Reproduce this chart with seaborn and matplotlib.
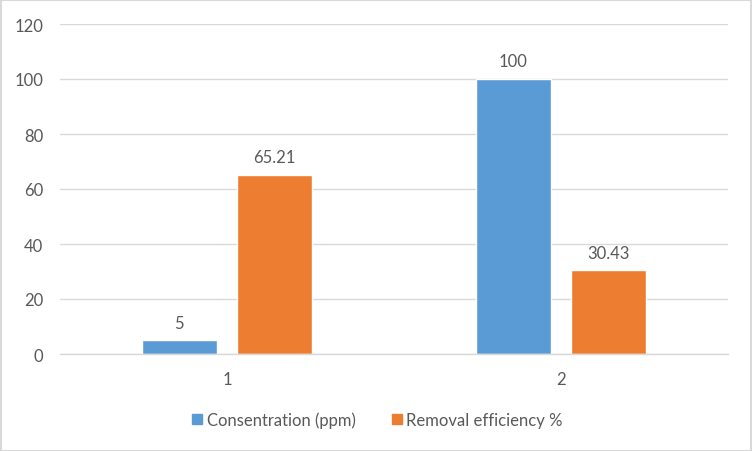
import matplotlib
matplotlib.use("Agg")
import matplotlib.pyplot as plt
from matplotlib.lines import Line2D
from matplotlib.patches import Rectangle
import seaborn as sns
import pandas as pd

categories = ["1", "2"]
series_names = ["Consentration (ppm)", "Removal efficiency %"]
concentration = [5, 100]
removal_efficiency = [65.21, 30.43]
label_text = {"Consentration (ppm)": ["5", "100"], "Removal efficiency %": ["65.21", "30.43"]}
yticks = [0, 20, 40, 60, 80, 100, 120]

colors = ["#5B9BD5", "#ED7D31"]
text_color = "#595959"
grid_color = "#D9D9D9"

df = pd.DataFrame({
    "cat": categories * 2,
    "series": [series_names[0]] * 2 + [series_names[1]] * 2,
    "value": concentration + removal_efficiency,
})

sns.set_theme(style="white")
plt.rcParams["font.family"] = ["Lato", "DejaVu Sans"]
fs = 12

fig = plt.figure(figsize=(7.52, 4.52), dpi=100)
ax = fig.add_axes([60 / 752, 1 - 355 / 452, 668 / 752, 330 / 452])

sns.barplot(data=df, x="cat", y="value", hue="series", hue_order=series_names,
            order=categories, palette=colors, width=0.57, gap=0.21,
            saturation=1, legend=False, ax=ax, errorbar=None)

for cont, name in zip(ax.containers, series_names):
    ax.bar_label(cont, labels=label_text[name], padding=7, fontsize=fs, color=text_color)

ax.set_xlim(-0.5, 1.5)
ax.set_ylim(0, 120)
ax.set_yticks(yticks)
ax.set_yticklabels([str(t) for t in yticks])
ax.yaxis.grid(True, color=grid_color, linewidth=1)
ax.set_axisbelow(True)
for s in ["top", "right", "left"]:
    ax.spines[s].set_visible(False)
ax.spines["bottom"].set_color(grid_color)
ax.spines["bottom"].set_linewidth(1)
ax.tick_params(axis="y", length=0, pad=12, labelsize=fs, labelcolor=text_color)
ax.tick_params(axis="x", length=0, pad=12, labelsize=fs, labelcolor=text_color)
ax.set_xlabel("")
ax.set_ylabel("")

handles = [Line2D([0], [0], marker="s", linestyle="", markersize=7.5,
                  markerfacecolor=c, markeredgecolor=c) for c in colors]
fig.legend(handles, series_names, loc="center", bbox_to_anchor=(0.5, 1 - 421 / 452),
           ncol=2, frameon=False, fontsize=fs, labelcolor=text_color,
           handletextpad=0.05, columnspacing=2.0, handlelength=1.0)

fig.patches.append(Rectangle((0.5 / 752, 0.5 / 452), 1 - 1.5 / 752, 1 - 1.5 / 452,
                             transform=fig.transFigure, fill=False,
                             edgecolor="#D9D9D9", linewidth=1.5))

fig.savefig("out.png", dpi=100)
